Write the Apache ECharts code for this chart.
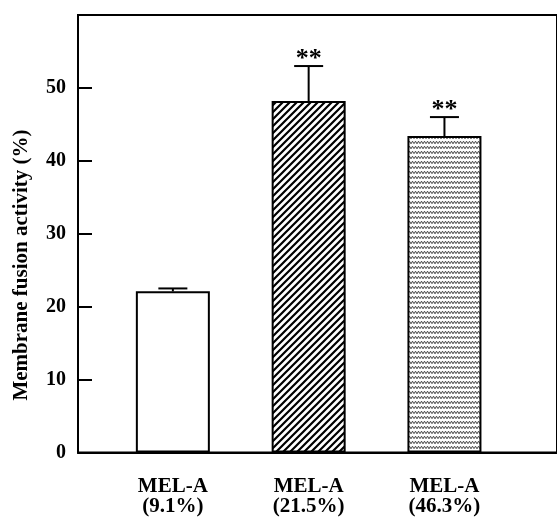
<!DOCTYPE html>
<html>
<head>
<meta charset="utf-8">
<script src="https://cdn.jsdelivr.net/npm/echarts@6/dist/echarts.min.js"></script>
<style>html,body{margin:0;padding:0;background:#fff}#c{width:557px;height:517px}</style>
</head>
<body>
<div id="c"></div>
<script>
// ---- data ----
const categories = ['MEL-A\n(9.1%)', 'MEL-A\n(21.5%)', 'MEL-A\n(46.3%)'];
const positions = [1, 2, 3];
const fusion = [22.1, 48.2, 43.4];
const errors = [0.4, 4.8, 2.6];
const significance = ['', '**', '**'];
const yAxisTitle = 'Membrane fusion activity (%)';

// ---- patterns ----
function hatchPattern() {
  const c = document.createElement('canvas');
  c.width = 7; c.height = 7;
  const g = c.getContext('2d');
  g.fillStyle = '#fff'; g.fillRect(0, 0, 7, 7);
  g.strokeStyle = '#000'; g.lineWidth = 2.2;
  g.beginPath();
  g.moveTo(-1, 8); g.lineTo(8, -1);
  g.moveTo(-5, 5); g.lineTo(5, -5);
  g.moveTo(2, 12); g.lineTo(12, 2);
  g.stroke();
  return c;
}
function wavePattern() {
  const c = document.createElement('canvas');
  c.width = 6; c.height = 5;
  const g = c.getContext('2d');
  g.fillStyle = '#fff'; g.fillRect(0, 0, 6, 5);
  g.strokeStyle = '#444'; g.lineWidth = 1;
  g.beginPath();
  g.moveTo(0, 3.8); g.lineTo(1.5, 1.2); g.lineTo(3, 3.8); g.lineTo(4.5, 1.2); g.lineTo(6, 3.8);
  g.stroke();
  return c;
}
const fills = ['#ffffff', { image: hatchPattern(), repeat: 'repeat' }, { image: wavePattern(), repeat: 'repeat' }];

const FONT = '"Liberation Serif", "Times New Roman", serif';
const chart = echarts.init(document.getElementById('c'), null, { renderer: 'canvas' });

const gridLeft = 78, gridRight = -30, W = 557;
const pxPerUnit = 144.3;
const xMin = 1 - (178.8 - gridLeft) / pxPerUnit;
const xMax = xMin + (W - gridLeft - gridRight) / pxPerUnit;

chart.setOption({
  animation: false,
  backgroundColor: '#fff',
  grid: { left: gridLeft, right: gridRight, top: 15, bottom: 60, show: true, borderColor: '#000', borderWidth: 2, backgroundColor: 'transparent' },
  xAxis: {
    type: 'value', min: xMin, max: xMax,
    splitLine: { show: false },
    axisTick: { show: false },
    axisLine: { show: true, lineStyle: { color: '#000', width: 2 } },
    axisLabel: {
      customValues: positions,
      formatter: function (v) { const i = positions.indexOf(Math.round(v)); return i >= 0 ? categories[i] : ''; },
      color: '#000', fontFamily: FONT, fontWeight: 'bold', fontSize: 21, lineHeight: 20, margin: 24
    }
  },
  yAxis: {
    type: 'value', min: 0, max: 60, interval: 10,
    splitLine: { show: false },
    axisLine: { show: true, lineStyle: { color: '#000', width: 2 } },
    axisTick: { show: true, inside: true, length: 14, lineStyle: { color: '#000', width: 2 } },
    axisLabel: {
      showMaxLabel: false,
      formatter: function (v) { return v === 60 ? '' : String(v); },
      color: '#000', fontFamily: FONT, fontWeight: 'bold', fontSize: 20, margin: 12
    }
  },
  graphic: [{
    type: 'text', x: 22, y: 265, rotation: Math.PI / 2,
    style: { text: yAxisTitle, fill: '#000', font: 'bold 21px ' + FONT, textAlign: 'center', textVerticalAlign: 'middle' }
  }],
  series: [
    {
      type: 'bar', barWidth: 74,
      data: positions.map((p, i) => ({ value: [p, fusion[i]], itemStyle: { color: fills[i], borderColor: '#000', borderWidth: 2 } })),
      z: 2
    },
    {
      type: 'custom', z: 3,
      data: positions.map((p, i) => [p, fusion[i], fusion[i] + errors[i]]),
      renderItem: function (params, api) {
        const x = api.value(0);
        const lo = api.coord([x, api.value(1)]);
        const hi = api.coord([x, api.value(2)]);
        const half = 14.5;
        const children = [
          { type: 'line', shape: { x1: lo[0], y1: lo[1], x2: hi[0], y2: hi[1] }, style: { stroke: '#000', lineWidth: 2 } },
          { type: 'line', shape: { x1: hi[0] - half, y1: hi[1], x2: hi[0] + half, y2: hi[1] }, style: { stroke: '#000', lineWidth: 2 } }
        ];
        const s = significance[params.dataIndex];
        if (s) {
          children.push({ type: 'text', x: hi[0], y: hi[1] + 6, style: { text: s, fill: '#000', font: 'bold 26px ' + FONT, textAlign: 'center', textVerticalAlign: 'bottom' } });
        }
        return { type: 'group', children: children };
      }
    }
  ]
});
</script>
</body>
</html>
